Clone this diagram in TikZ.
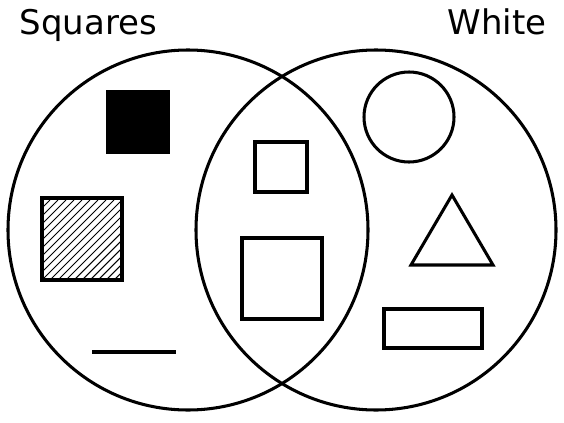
\documentclass[tikz,border=0pt]{standalone}
\usepackage{fontspec}
\setmainfont{DejaVu Sans}
\begin{document}
\begin{tikzpicture}[x=0.03cm, y=-0.03cm, line width=2.6pt]
  \tikzset{setname/.style={inner sep=0pt, font=\fontsize{29}{34}\selectfont}}
  \useasboundingbox (0,0) rectangle (564,423);
  % the two sets
  \draw (188,230) circle (180);
  \draw (376,230) circle (180);
  \node[setname, anchor=base west] (squares) at (18,35) {Squares};
  \node[setname, anchor=base east] (white) at (548,35) {White};
  % squares only
  \fill (106,90) rectangle (170,154);
  \begin{scope}
    \clip (42,198) rectangle (122,280);
    \foreach \k in {0,8,...,176}
      \draw[line width=0.9pt] (42+\k-90,290) -- (42+\k,200);
  \end{scope}
  \draw (42,198) rectangle (122,280);
  \draw (92,352) -- (176,352);
  % both
  \draw (255,142) rectangle (307,192);
  \draw (242,238) rectangle (322,319);
  % white only
  \draw (409,117) circle (45);
  \draw (411,265) -- (493,265) -- (452,195) -- cycle;
  \draw (384,309) rectangle (482,348);
\end{tikzpicture}
\end{document}
